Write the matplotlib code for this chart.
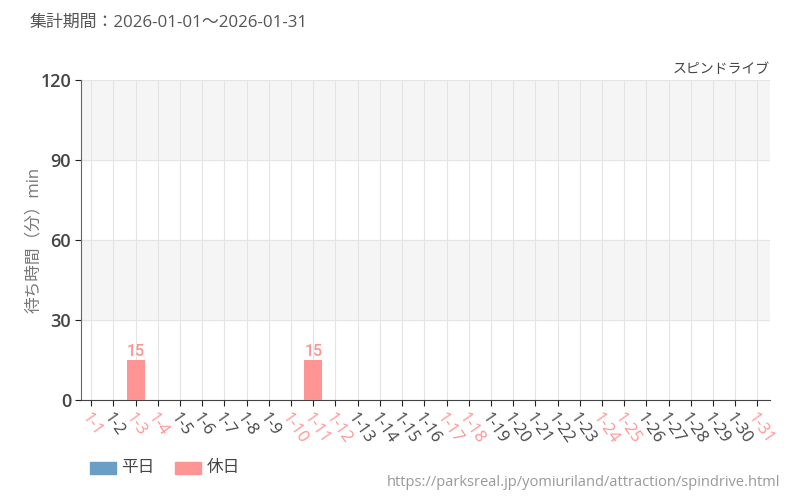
import matplotlib.pyplot as plt
from matplotlib.patches import Rectangle

plt.rcParams['font.family'] = ['Open Sans', 'Noto Sans CJK JP', 'DejaVu Sans']

days = [f"1-{d}" for d in range(1, 32)]
holidays = ["1-1", "1-3", "1-4", "1-10", "1-11", "1-12", "1-17", "1-18",
            "1-24", "1-25", "1-31"]
wait_min = [0, 0, 15, 0, 0, 0, 0, 0, 0, 0, 15, 0, 0, 0, 0, 0, 0, 0, 0, 0,
            0, 0, 0, 0, 0, 0, 0, 0, 0, 0, 0]
yticks = [0, 30, 60, 90, 120]

weekday_color = '#6a9ec5'
holiday_color = '#ff9494'
text_color = '#444444'

fig = plt.figure(figsize=(8, 5), dpi=100)
ax = fig.add_axes([0.101, 0.2, 0.861, 0.64])

# alternating bands
for i in range(len(yticks) - 1):
    if i % 2 == 1:
        ax.axhspan(yticks[i], yticks[i + 1], color='#f5f5f5', zorder=0)

x = list(range(len(days)))
colors = [holiday_color if d in holidays else weekday_color for d in days]
ax.bar(x, wait_min, width=0.8, color=colors, zorder=3)

for xi, v, c in zip(x, wait_min, colors):
    if v > 0:
        ax.text(xi, v + 0.4, str(v), ha='center', va='bottom', color=c,
                fontsize=11.5, family=['Roboto', 'DejaVu Sans'], fontweight='medium',
                fontstretch='condensed')

ax.set_xlim(-0.47, 30.55)
ax.set_ylim(0, 120)
ax.set_yticks(yticks)
ax.set_yticklabels([str(t) for t in yticks], fontsize=13, color=text_color, fontweight='semibold')
ax.set_xticks(x)
ax.set_xticklabels(days, rotation=-55, ha='left', va='top', rotation_mode='anchor', fontsize=12)
for lbl, d in zip(ax.get_xticklabels(), days):
    lbl.set_color(holiday_color if d in holidays else text_color)

ax.grid(axis='x', color='#e4e4e4', linewidth=0.8, zorder=1)
ax.grid(axis='y', color='#e4e4e4', linewidth=0.8, zorder=1)
ax.set_axisbelow(True)
for s in ['top', 'right']:
    ax.spines[s].set_visible(False)
ax.spines['left'].set_color('#666666')
ax.spines['bottom'].set_color('#444444')
ax.tick_params(axis='both', length=4, color='#222222', pad=3)

ax.set_ylabel('待ち時間（分）min', fontsize=12, color='#777777')
ax.yaxis.set_label_coords(-0.057, 0.5)

fig.text(0.0375, 0.955, '集計期間：2026-01-01～2026-01-31', fontsize=12.2,
         color='#555555', va='center')
fig.text(0.962, 0.862, 'スピンドライブ', fontsize=10, color='#444444',
         ha='right', va='center')

# legend
fig.patches.append(Rectangle((0.1125, 0.052), 0.032, 0.024, transform=fig.transFigure,
                             color=weekday_color))
fig.text(0.151, 0.064, '平日', fontsize=12, color=text_color, va='center')
fig.patches.append(Rectangle((0.219, 0.052), 0.032, 0.024, transform=fig.transFigure,
                             color=holiday_color))
fig.text(0.258, 0.064, '休日', fontsize=12, color=text_color, va='center')

fig.text(0.975, 0.036, 'https://parksreal.jp/yomiuriland/attraction/spindrive.html',
         fontsize=10.5, color='#999999', ha='right', va='center')

fig.savefig('out.png', dpi=100)
